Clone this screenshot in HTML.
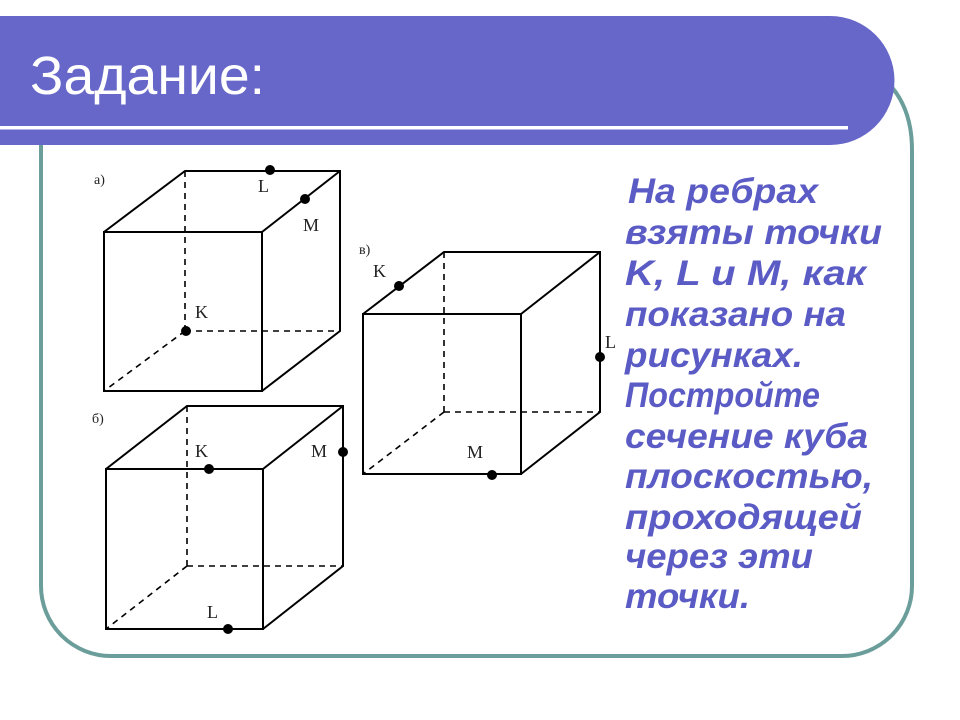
<!DOCTYPE html>
<html><head><meta charset="utf-8"><style>
html,body{margin:0;padding:0;background:#fff;}
svg{display:block;}
</style></head><body>
<svg width="960" height="720" viewBox="0 0 960 720" xmlns="http://www.w3.org/2000/svg">
<path d="M41,140 V586 A70,70 0 0 0 111,656 H842 A70,70 0 0 0 912,586 V150 Q912,105 885,80" fill="none" stroke="#6b9e9a" stroke-width="4"/>
<path d="M0,16 H830 A64.5,64.5 0 0 1 830,145 H0 Z" fill="#6767c9"/>
<rect x="0" y="126" width="848" height="3.5" fill="#fff"/>
<text x="30" y="94" font-family="Liberation Sans, sans-serif" font-size="54" fill="#fff" textLength="235" lengthAdjust="spacingAndGlyphs">Задание:</text>

<g stroke="#000" stroke-width="2" fill="none">
<rect x="104" y="232" width="158" height="159"/>
<polyline points="104,232 185,171 340,171 340,331 262,391"/>
<line x1="262" y1="232" x2="340" y2="171"/>
<g stroke-dasharray="6,5" stroke-width="1.6">
<line x1="185" y1="171" x2="185" y2="331"/><line x1="185" y1="331" x2="340" y2="331"/><line x1="185" y1="331" x2="104" y2="391"/>
</g>
<rect x="106" y="469" width="157" height="160"/>
<polyline points="106,469 187,406 343,406 343,566 263,629"/>
<line x1="263" y1="469" x2="343" y2="406"/>
<g stroke-dasharray="6,5" stroke-width="1.6">
<line x1="187" y1="406" x2="187" y2="566"/><line x1="187" y1="566" x2="343" y2="566"/><line x1="187" y1="566" x2="106" y2="629"/>
</g>
<rect x="363" y="314" width="158" height="160"/>
<polyline points="363,314 444,252 600,252 600,412 521,474"/>
<line x1="521" y1="314" x2="600" y2="252"/>
<g stroke-dasharray="6,5" stroke-width="1.6">
<line x1="444" y1="252" x2="444" y2="412"/><line x1="444" y1="412" x2="600" y2="412"/><line x1="444" y1="412" x2="363" y2="474"/>
</g>
</g>
<g fill="#000">
<circle cx="270" cy="170" r="5"/><circle cx="305" cy="199" r="5"/><circle cx="186" cy="331" r="5"/>
<circle cx="209" cy="469" r="5"/><circle cx="343" cy="452" r="5"/><circle cx="228" cy="629" r="5"/>
<circle cx="399" cy="286" r="5"/><circle cx="600" cy="357" r="5"/><circle cx="492" cy="475" r="5"/>
</g>
<g font-family="Liberation Serif, serif" font-size="18" fill="#222">
<text x="94" y="184" font-size="14">а)</text>
<text x="258" y="192">L</text><text x="303" y="231">M</text><text x="195" y="318">K</text>
<text x="92" y="423" font-size="14">б)</text>
<text x="195" y="457">K</text><text x="311" y="457">M</text><text x="207" y="618">L</text>
<text x="359" y="254" font-size="14">в)</text>
<text x="373" y="277">K</text><text x="605" y="348">L</text><text x="467" y="458">M</text>
</g>
<g font-family="Liberation Sans, sans-serif" font-size="35" font-weight="bold" font-style="italic" fill="#5b5bc6">
<text x="628" y="203" textLength="190" lengthAdjust="spacingAndGlyphs">На ребрах</text>
<text x="625" y="244" textLength="257" lengthAdjust="spacingAndGlyphs">взяты точки</text>
<text x="625" y="285" textLength="241" lengthAdjust="spacingAndGlyphs">K, L и M, как</text>
<text x="625" y="326" textLength="221" lengthAdjust="spacingAndGlyphs">показано на</text>
<text x="625" y="367" textLength="178" lengthAdjust="spacingAndGlyphs">рисунках.</text>
<text x="625" y="407" textLength="195" lengthAdjust="spacingAndGlyphs">Постройте</text>
<text x="625" y="448" textLength="243" lengthAdjust="spacingAndGlyphs">сечение куба</text>
<text x="625" y="488" textLength="248" lengthAdjust="spacingAndGlyphs">плоскостью,</text>
<text x="625" y="529" textLength="237" lengthAdjust="spacingAndGlyphs">проходящей</text>
<text x="625" y="568" textLength="188" lengthAdjust="spacingAndGlyphs">через эти</text>
<text x="625" y="608" textLength="125" lengthAdjust="spacingAndGlyphs">точки.</text>
</g>
</svg>
</body></html>
